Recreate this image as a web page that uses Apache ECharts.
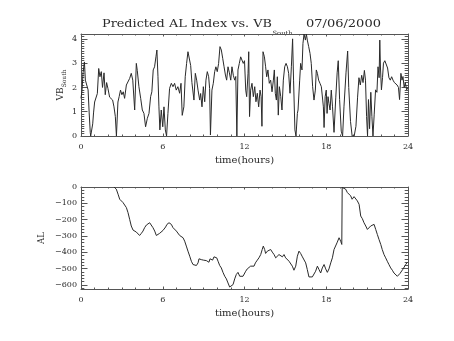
<!DOCTYPE html>
<html>
<head>
<meta charset="utf-8">
<script src="https://cdn.jsdelivr.net/npm/echarts@6/dist/echarts.min.js"></script>
<style>
  html, body { margin: 0; padding: 0; background: #fff; }
  #chart { width: 454px; height: 341px; }
</style>
</head>
<body>
<div id="chart"></div>
<script>
// Time axis (hours of the day) tick values
const hourTicks = [0, 6, 12, 18, 24];

// Southward IMF component VB_South, sampled through the day
const vbHours = [
  0.00, 0.08, 0.15, 0.25, 0.32, 0.40, 0.46, 0.52, 0.60, 0.68, 0.71, 0.80, 0.86, 0.92, 1.00, 1.12,
  1.20, 1.30, 1.39, 1.49, 1.58, 1.69, 1.78, 1.88, 1.98, 2.10, 2.21, 2.32, 2.42, 2.52, 2.60, 2.71,
  2.80, 2.90, 3.00, 3.10, 3.20, 3.33, 3.45, 3.57, 3.69, 3.80, 3.94, 4.06, 4.13, 4.25, 4.38, 4.50,
  4.62, 4.74, 4.87, 4.99, 5.11, 5.20, 5.30, 5.40, 5.50, 5.57, 5.65, 5.72, 5.79, 5.89, 6.00, 6.09,
  6.19, 6.28, 6.38, 6.50, 6.63, 6.75, 6.87, 6.99, 7.11, 7.24, 7.34, 7.43, 7.55, 7.65, 7.75, 7.85,
  7.95, 8.05, 8.14, 8.29, 8.39, 8.49, 8.59, 8.71, 8.78, 8.88, 8.98, 9.08, 9.17, 9.27, 9.37, 9.44,
  9.50, 9.61, 9.71, 9.81, 9.90, 10.00, 10.10, 10.20, 10.30, 10.40, 10.50, 10.60, 10.69, 10.79, 10.89, 10.99,
  11.08, 11.18, 11.28, 11.36, 11.44, 11.52, 11.62, 11.72, 11.82, 11.91, 12.00, 12.09, 12.16, 12.26, 12.31, 12.37,
  12.45, 12.55, 12.65, 12.75, 12.84, 12.94, 13.04, 13.14, 13.22, 13.28, 13.36, 13.46, 13.55, 13.63, 13.72, 13.82,
  13.92, 14.02, 14.12, 14.19, 14.26, 14.34, 14.41, 14.48, 14.56, 14.66, 14.75, 14.85, 14.95, 15.05, 15.15, 15.24,
  15.34, 15.44, 15.53, 15.60, 15.70, 15.78, 15.88, 15.93, 16.05, 16.12, 16.22, 16.29, 16.37, 16.47, 16.54, 16.61,
  16.71, 16.81, 16.90, 17.00, 17.10, 17.20, 17.27, 17.35, 17.44, 17.54, 17.64, 17.74, 17.79, 17.84, 17.92, 18.00,
  18.06, 18.13, 18.20, 18.28, 18.37, 18.46, 18.57, 18.70, 18.80, 18.88, 18.98, 19.10, 19.20, 19.30, 19.45, 19.57,
  19.65, 19.78, 19.90, 20.05, 20.18, 20.30, 20.40, 20.50, 20.60, 20.70, 20.80, 20.88, 20.96, 21.03, 21.10, 21.18,
  21.27, 21.35, 21.43, 21.52, 21.62, 21.72, 21.80, 21.88, 21.93, 21.98, 22.05, 22.13, 22.20, 22.30, 22.40, 22.50,
  22.60, 22.70, 22.80, 22.90, 23.00, 23.10, 23.20, 23.30, 23.38, 23.48, 23.56, 23.63, 23.72, 23.80, 23.90, 24.00
];
const vbSouth = [
  1.55, 1.90, 2.60, 3.05, 2.30, 2.35, 2.30, 1.90, 0.95, 0.15, 0.00, 0.00, 0.50, 0.95, 1.40, 1.48,
  1.75, 2.78, 2.44, 2.65, 2.00, 2.60, 1.70, 2.20, 1.95, 1.60, 1.68, 1.48, 1.20, 0.80, 0.00, 1.40,
  1.62, 1.89, 1.70, 1.82, 1.55, 2.10, 2.17, 2.37, 2.58, 2.30, 1.07, 2.99, 2.70, 2.03, 1.55, 1.07,
  0.93, 0.38, 0.73, 0.93, 1.62, 1.82, 2.72, 2.85, 3.26, 3.54, 2.44, 1.20, 0.25, 1.07, 0.38, 1.20,
  0.25, 0.00, 0.93, 1.96, 2.17, 2.03, 2.17, 1.89, 2.03, 1.76, 2.17, 0.85, 1.20, 2.44, 2.99, 3.47,
  3.40, 2.90, 2.20, 1.48, 2.58, 2.30, 1.89, 1.48, 1.75, 1.20, 2.03, 1.41, 2.30, 2.65, 2.44, 1.96,
  0.04, 1.89, 2.17, 2.65, 2.85, 2.65, 2.99, 3.68, 3.54, 3.20, 2.85, 2.51, 2.30, 2.85, 2.60, 2.30,
  2.85, 2.50, 2.30, 2.45, 0.00, 2.72, 2.99, 3.26, 3.20, 2.99, 3.10, 1.89, 1.62, 2.58, 3.47, 0.80,
  1.89, 2.17, 1.62, 2.03, 1.41, 1.76, 1.20, 1.89, 1.62, 0.40, 3.47, 3.26, 2.85, 2.44, 2.72, 2.17,
  2.30, 1.82, 2.30, 2.72, 1.76, 1.48, 2.44, 0.86, 2.03, 1.62, 1.07, 2.30, 2.85, 2.99, 2.85, 2.58,
  1.76, 2.85, 4.00, 2.30, 0.25, 0.00, 0.93, 1.07, 2.30, 2.99, 2.72, 3.81, 4.20, 3.95, 4.20, 3.95,
  3.68, 3.40, 2.99, 2.03, 1.48, 1.89, 2.72, 2.58, 2.30, 2.17, 2.03, 1.48, 1.20, 0.35, 1.62, 1.89,
  0.93, 1.62, 1.34, 1.07, 1.89, 1.20, 0.15, 1.60, 2.60, 3.10, 1.50, 0.20, 0.00, 1.20, 2.60, 3.50,
  2.00, 0.60, 0.00, 0.00, 0.40, 1.60, 2.40, 2.10, 2.50, 2.20, 2.70, 2.30, 0.80, 0.00, 1.50, 0.30,
  1.80, 0.80, 0.00, 0.90, 1.90, 1.80, 2.85, 2.40, 3.95, 2.80, 1.90, 2.40, 3.00, 3.10, 3.05, 2.80,
  2.40, 2.30, 2.44, 2.30, 2.20, 2.17, 2.10, 2.00, 1.50, 2.58, 2.30, 2.45, 2.00, 2.20, 1.90, 2.00
];

// Predicted AL index (nT)
const alHours = [
  2.42, 2.59, 2.72, 2.84, 2.96, 3.08, 3.20, 3.33, 3.45, 3.57, 3.69, 3.82, 3.94, 4.06, 4.18, 4.30,
  4.43, 4.55, 4.67, 4.80, 4.92, 5.04, 5.16, 5.28, 5.41, 5.53, 5.65, 5.77, 5.90, 6.02, 6.14, 6.21,
  6.31, 6.39, 6.46, 6.56, 6.63, 6.75, 6.87, 7.00, 7.12, 7.24, 7.36, 7.49, 7.61, 7.73, 7.85, 7.98,
  8.10, 8.22, 8.34, 8.47, 8.59, 8.66, 8.76, 8.83, 8.91, 8.98, 9.08, 9.20, 9.32, 9.39, 9.47, 9.57,
  9.66, 9.76, 9.86, 9.96, 10.06, 10.18, 10.30, 10.42, 10.55, 10.67, 10.79, 10.91, 11.03, 11.16, 11.28, 11.40,
  11.52, 11.65, 11.77, 11.89, 12.01, 12.09, 12.20, 12.33, 12.45, 12.57, 12.70, 12.80, 12.94, 13.06, 13.19, 13.30,
  13.38, 13.48, 13.55, 13.68, 13.80, 13.92, 14.04, 14.17, 14.29, 14.41, 14.53, 14.66, 14.78, 14.90, 15.02, 15.14,
  15.27, 15.39, 15.51, 15.63, 15.76, 15.88, 16.00, 16.12, 16.25, 16.37, 16.49, 16.61, 16.73, 16.86, 16.98, 17.10,
  17.22, 17.35, 17.47, 17.59, 17.71, 17.84, 17.96, 18.08, 18.20, 18.33, 18.45, 18.57, 18.69, 18.81, 18.94, 19.06,
  19.14, 19.17, 19.30, 19.42, 19.55, 19.67, 19.79, 19.90, 20.04, 20.16, 20.28, 20.41, 20.53, 20.65, 20.77, 20.90,
  21.02, 21.14, 21.26, 21.39, 21.51, 21.63, 21.75, 21.87, 22.00, 22.11, 22.24, 22.36, 22.48, 22.60, 22.73, 22.85,
  22.97, 23.09, 23.22, 23.29, 23.41, 23.51, 23.61, 23.71, 23.83, 23.95
];
const alIndex = [
  0, -13, -44, -75, -85, -95, -106, -126, -157, -198, -239, -264, -276, -276, -284, -297,
  -284, -270, -249, -233, -223, -219, -229, -249, -270, -297, -297, -284, -276, -266, -270, -245,
  -229, -240, -219, -215, -229, -249, -260, -270, -280, -297, -307, -311, -332, -362, -393, -424,
  -455, -475, -485, -481, -465, -440, -428, -445, -434, -448, -440, -451, -445, -461, -440, -434,
  -448, -428, -420, -434, -455, -481, -496, -523, -547, -563, -588, -613, -622, -598, -563, -536,
  -523, -547, -551, -547, -536, -516, -502, -490, -485, -490, -485, -465, -448, -434, -414, -383,
  -362, -383, -407, -393, -383, -383, -399, -414, -434, -434, -414, -407, -428, -414, -434, -428,
  -455, -465, -485, -510, -485, -424, -393, -407, -428, -440, -465, -506, -551, -557, -551, -547,
  -516, -485, -506, -527, -496, -475, -502, -523, -502, -465, -434, -383, -373, -338, -311, -332,
  -352, -3, 0, -13, -34, -24, -54, -75, -59, -65, -85, -106, -178, -194, -219, -239,
  -260, -256, -239, -249, -229, -260, -291, -321, -352, -383, -414, -434, -455, -475, -496, -510,
  -527, -536, -547, -536, -530, -527, -506, -496, -475, -461
];

const FONT = 'DejaVu Serif';
const INK = '#2a2a2a';
const FRAME = '#555';

const zip = (xs, ys) => xs.map((x, i) => [x, ys[i]]);
const withMinus = v => String(v).replace('-', '\u2212');

// Font size that makes a string span a given width
const measureCtx = document.createElement('canvas').getContext('2d');
function fitSize(str, width) {
  measureCtx.font = '100px "DejaVu Serif"';
  return 100 * width / measureCtx.measureText(str).width;
}

// One plot panel is framed by four axes: labelled bottom/left, bare top/right
function timeAxis(gridIndex, position, labelled) {
  return {
    type: 'value', gridIndex, position,
    min: hourTicks[0], max: hourTicks[hourTicks.length - 1], interval: hourTicks[1] - hourTicks[0],
    axisLine: { show: true, onZero: false, lineStyle: { color: FRAME, width: 1 } },
    axisTick: { show: true, inside: true, length: 2.5, lineStyle: { color: FRAME } },
    minorTick: { show: true, splitNumber: 6, length: 1.5, lineStyle: { color: FRAME } },
    splitLine: { show: false },
    axisLabel: { show: labelled, margin: 7, fontFamily: FONT, fontSize: 8, color: INK },
    name: labelled ? 'time(hours)' : '',
    nameLocation: 'middle', nameGap: 19,
    nameTextStyle: { fontFamily: FONT, fontSize: 10, color: INK }
  };
}

function valueAxis(gridIndex, position, labelled, extra) {
  return Object.assign({
    type: 'value', gridIndex, position,
    axisLine: { show: true, onZero: false, lineStyle: { color: FRAME, width: 1 } },
    axisTick: { show: true, inside: true, length: 6.5, lineStyle: { color: FRAME } },
    minorTick: { show: true, length: 3.3, lineStyle: { color: FRAME } },
    splitLine: { show: false },
    axisLabel: { show: labelled, margin: 4, fontFamily: FONT, fontSize: 8, color: INK }
  }, extra);
}

const vbAxisRange = { min: 0, max: 4.2, interval: 1 };
const alAxisRange = { min: -625, max: 0, splitNumber: 6 };

// Title pieces, squeezed vertically a little to get the wide, low letter shapes
function titleText(str, x, y, width) {
  return {
    type: 'text', x, y, scaleY: 0.86,
    style: { text: str, font: fitSize(str, width).toFixed(2) + 'px "DejaVu Serif"',
             fill: INK, align: 'left', verticalAlign: 'top' }
  };
}

const chart = echarts.init(document.getElementById('chart'), null, { renderer: 'canvas' });
chart.setOption({
  animation: false,
  backgroundColor: '#fff',
  graphic: [
    titleText('Predicted AL Index vs. VB', 102, 19, 170),
    titleText('South', 272.5, 30, 20),
    titleText('07/06/2000', 306, 19, 75)
  ],
  grid: [
    { left: 81, top: 34, width: 327, height: 102 },
    { left: 81, top: 187, width: 327, height: 102 }
  ],
  xAxis: [
    timeAxis(0, 'bottom', true),
    timeAxis(0, 'top', false),
    timeAxis(1, 'bottom', true),
    timeAxis(1, 'top', false)
  ],
  yAxis: [
    valueAxis(0, 'left', true, Object.assign({
      name: '{m|VB}{s|South}', nameLocation: 'middle', nameGap: 14, nameRotate: 90,
      nameMoveOverlap: false,
      nameTextStyle: { rich: {
        m: { fontFamily: FONT, fontSize: 9, color: INK, verticalAlign: 'top' },
        s: { fontFamily: FONT, fontSize: 6, color: INK, verticalAlign: 'top', padding: [5, 0, 0, 0] }
      } },
      axisLabel: { show: true, margin: 4, fontFamily: FONT, fontSize: 8, color: INK, showMaxLabel: false },
      minorTick: { show: true, splitNumber: 10, length: 3.3, lineStyle: { color: FRAME } }
    }, vbAxisRange)),
    valueAxis(0, 'right', false, Object.assign({
      minorTick: { show: true, splitNumber: 10, length: 3.3, lineStyle: { color: FRAME } }
    }, vbAxisRange)),
    valueAxis(1, 'left', true, Object.assign({
      name: 'AL', nameLocation: 'middle', nameGap: 35, nameRotate: 90,
      nameMoveOverlap: false,
      nameTextStyle: { fontFamily: FONT, fontSize: 8.5, color: INK },
      axisLabel: { show: true, margin: 4, fontFamily: FONT, fontSize: 8, color: INK,
                   showMinLabel: false, formatter: withMinus },
      minorTick: { show: true, splitNumber: 5, length: 3.3, lineStyle: { color: FRAME } }
    }, alAxisRange)),
    valueAxis(1, 'right', false, Object.assign({
      minorTick: { show: true, splitNumber: 5, length: 3.3, lineStyle: { color: FRAME } }
    }, alAxisRange))
  ],
  series: [
    { type: 'line', xAxisIndex: 0, yAxisIndex: 0, data: zip(vbHours, vbSouth),
      showSymbol: false, clip: true, lineStyle: { color: INK, width: 1 } },
    { type: 'line', xAxisIndex: 2, yAxisIndex: 2, data: zip(alHours, alIndex),
      showSymbol: false, clip: true, lineStyle: { color: INK, width: 1 } }
  ]
});
</script>
</body>
</html>
